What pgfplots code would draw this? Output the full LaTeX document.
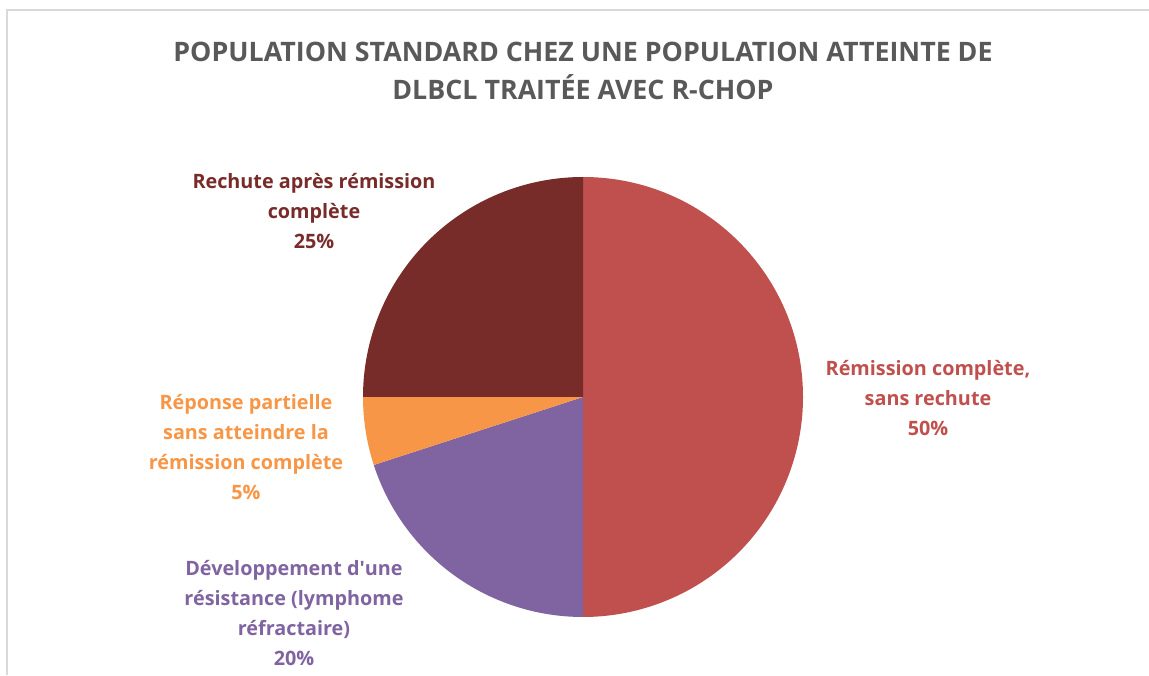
\documentclass[border=0pt]{standalone}
\usepackage{fontspec}
\setmainfont{Open Sans}
\usepackage{pgfplots}
\pgfplotsset{compat=1.18}
\definecolor{cRem}{HTML}{C0504D}
\definecolor{cDev}{HTML}{8064A2}
\definecolor{cRep}{HTML}{F79646}
\definecolor{cRec}{HTML}{772C2A}
\definecolor{titleGray}{HTML}{595959}
\definecolor{frameGray}{HTML}{D9D9D9}
\newcommand\lbl{\fontsize{19.8}{30.3}\selectfont\bfseries}
\begin{document}
\begin{tikzpicture}
\begin{axis}[
    width=1149pt, height=675pt, scale only axis,
    xmin=0, xmax=1149, ymin=0, ymax=675,
    hide axis, clip=false,
]
% slices, clockwise from 12 o'clock (percent / colour)
\gdef\ang{90}
\foreach \v/\c in {50/cRem, 20/cDev, 5/cRep, 25/cRec}{
    \pgfmathsetmacro\endang{\ang-3.6*\v}
    \edef\temp{\noexpand\fill[\c] (axis cs:583,278) -- ++(\ang:220pt)
        arc[start angle=\ang, end angle=\endang, radius=220pt] -- cycle;}
    \temp
    \xdef\ang{\endang}
}
\node[align=center, text=titleGray, font=\fontsize{26.8}{38}\selectfont\bfseries]
    at (axis cs:583,604) {POPULATION STANDARD CHEZ UNE POPULATION ATTEINTE DE\\DLBCL TRAITÉE AVEC R-CHOP};
\node[align=center, text=cRem, font=\lbl] at (axis cs:928,277)
    {Rémission complète,\\sans rechute\\50\%};
\node[align=center, text=cDev, font=\lbl] at (axis cs:294,62)
    {Développement d\textquotesingle une\\résistance (lymphome\\réfractaire)\\20\%};
\node[align=center, text=cRep, font=\lbl] at (axis cs:246,228)
    {Réponse partielle\\sans atteindre la\\rémission complète\\5\%};
\node[align=center, text=cRec, font=\lbl] at (axis cs:314,464)
    {Rechute après rémission\\complète\\25\%};
\end{axis}
\draw[frameGray, line width=1.5pt] (7pt,0) -- (7pt,665pt) -- (1149pt,665pt);
\pgfresetboundingbox
\useasboundingbox (0,0) rectangle (1149pt,675pt);
\end{tikzpicture}
\end{document}
